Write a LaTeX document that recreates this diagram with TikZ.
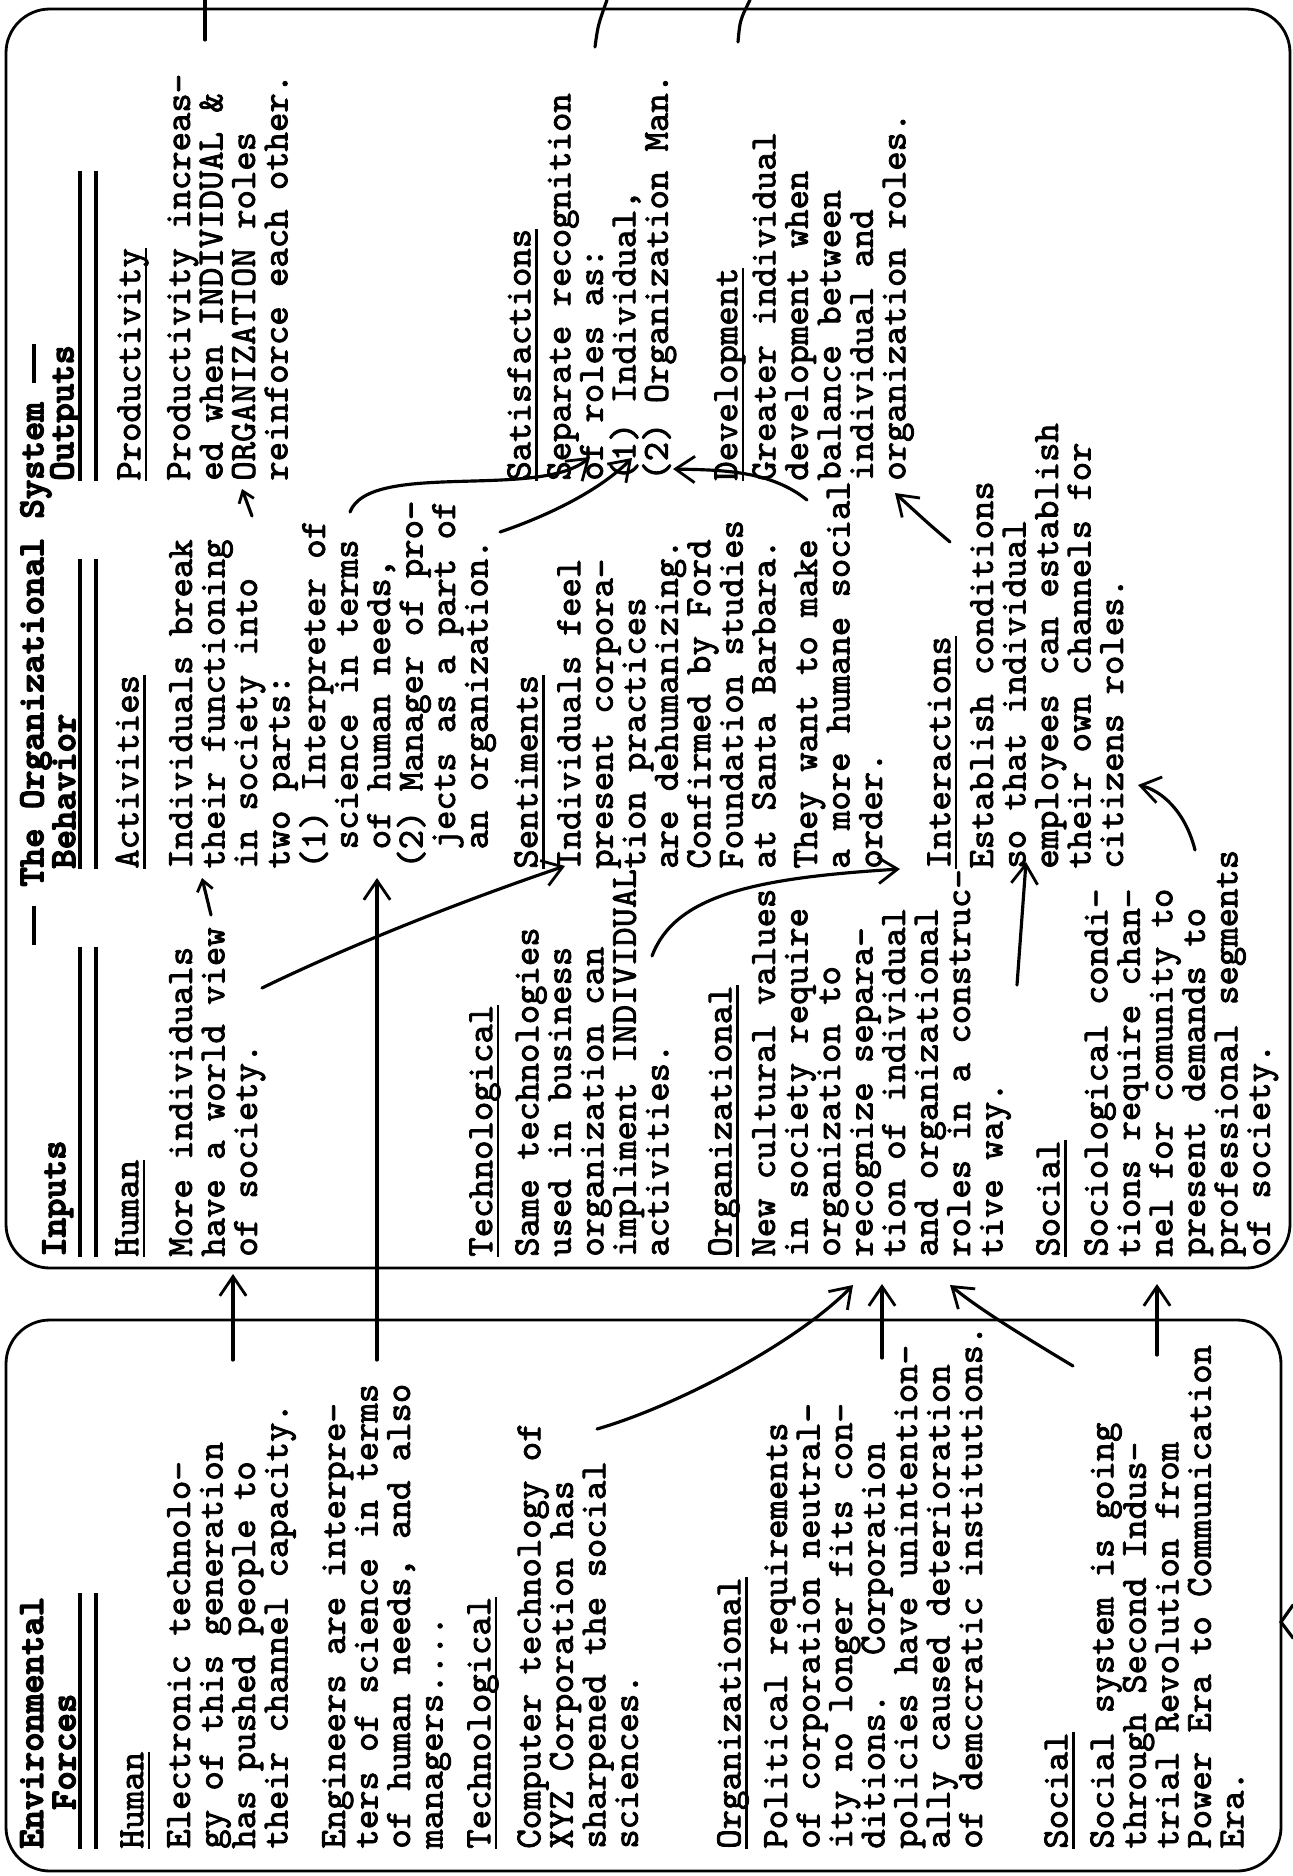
\documentclass[tikz,border=0pt]{standalone}
\usepackage{fontspec}
\newfontfamily\twfam{lmmono10-regular.otf}[FakeBold=2.2,
  BoldFont=lmmonolt10-bold.otf, BoldFeatures={FakeBold=3.5}]
\usetikzlibrary{arrows.meta}

\newcommand{\ul}[1]{\setbox0\hbox{#1}\rlap{\rule[-0.2em]{\wd0}{0.07em}}\box0}
\newcommand{\tdash}{\rule[0.2em]{1.05em}{0.11em}}

\begin{document}
\frenchspacing
\begin{tikzpicture}[
  x=0.02cm, y=-0.02cm,
  txt/.style  = {rotate=90, anchor=north west, inner sep=0pt, align=left,
                 font=\twfam\fontsize{21pt}{18.5pt}\selectfont,
                 execute at begin node=\strut},
  hd/.style   = {txt, font=\twfam\bfseries\fontsize{21pt}{18.5pt}\selectfont},
  box/.style  = {line width=1.6pt, rounded corners=25pt},
  uline/.style= {line width=2.4pt},
  lin/.style  = {line width=1.8pt, line cap=round},
  arr/.style  = {lin, -{Straight Barb[length=11pt,width=15pt,line width=1.6pt]}},
  sarr/.style = {lin, -{Straight Barb[length=6pt,width=9pt,line width=1.6pt]}},
]

\def\cI{1257} \def\cB{869} \def\cO{481} \def\cE{1849}

\useasboundingbox (0,0) rectangle (1293,1876);

\draw[box] (6,9) rectangle (1290,1268);
\draw[box] (6,1320) rectangle (1281,1871);

\node[hd] (title) at (20,945) {\tdash~The Organizational System~\tdash};

\node[hd] (inHead)  at (42,\cI) {Inputs};
\node[hd] (bhHead)  at (52,\cB) {Behavior};
\node[hd] (outHead) at (50,\cO) {Outputs};
\foreach \c in {\cI,\cB,\cO}{
  \draw[uline] (80,\c) -- (80,\c-310);
  \draw[uline] (96,\c) -- (96,\c-310);
}

\node[txt] (inHuman)   at (115,\cI) {\ul{Human}};
\node[txt] (inHumanTx) at (169,\cI) {More individuals\\have a world view\\of society.};
\node[txt] (inTech)    at (469,\cI) {\ul{Technological}};
\node[txt] (inTechTx)  at (515,\cI) {Same technologies\\used in business\\organization can\\impliment INDIVIDUAL\\activities.};
\node[txt] (inOrg)     at (708,\cI) {\ul{Organizational}};
\node[txt] (inOrgTx)   at (752,\cI) {New cultural values\\in society require\\organization to\\recognize separa-\\tion of individual\\and organizational\\roles in a construc-\\tive way.};
\node[txt] (inSoc)     at (1036,\cI) {\ul{Social}};
\node[txt] (inSocTx)   at (1084,\cI) {Sociological condi-\\tions require chan-\\nel for comunity to\\present demands to\\professional segments\\of society.};

\node[txt] (bhAct)    at (115,\cB) {\ul{Activities}};
\node[txt] (bhActTx)  at (169,\cB) {Individuals break\\their functioning\\in society into\\two parts:\\(1) Interpreter of\\~science in terms\\~of human needs,\\(2) Manager of pro-\\~jects as a part of\\~an organization.};
\node[txt] (bhSent)   at (514,\cB) {\ul{Sentiments}};
\node[txt] (bhSentTx) at (557,\cB) {Individuals feel\\present corpora-\\tion practices\\are dehumanizing.\\Confirmed by Ford\\Foundation studies\\at Santa Barbara.};
\node[txt] (bhWant)   at (794,\cB) {They want to make\\a more humane social\\order.};
\node[txt] (bhInt)    at (927,\cB) {\ul{Interactions}};
\node[txt] (bhIntTx)  at (970,\cB) {Establish conditions\\so that individual\\employees can establish\\their own channels for\\citizens roles.};

\node[txt] (outProd)   at (117,\cO) {\ul{Productivity}};
\node[txt] (outProdTx) at (167,\cO) {Productivity increas-\\ed when INDIVIDUAL \&\\ORGANIZATION roles\\reinforce each other.};
\node[txt] (outSat)    at (507,\cO) {\ul{Satisfactions}};
\node[txt] (outSatTx)  at (547,\cO) {Separate recognition\\of roles as:\\(1) Individual,\\(2) Organization Man.};
\node[txt] (outDev)    at (714,\cO) {\ul{Development}};
\node[txt] (outDevTx)  at (752,\cO) {Greater individual\\development when\\balance between\\individual and\\organization roles.};

\node[hd] (envHead) at (20,\cE) {Environmental\\~~Forces};
\draw[uline] (80,\cE) -- (80,1593);
\draw[uline] (96,\cE) -- (96,1593);

\node[txt] (envHuman)   at (120,\cE) {\ul{Human}};
\node[txt] (envHumanTx) at (167,\cE) {Electronic technolo-\\gy of this generation\\has pushed people to\\their channel capacity.};
\node[txt] (envEng)     at (322,\cE) {Engineers are interpre-\\ters of science in terms\\of human needs, and also\\managers....};
\node[txt] (envTech)    at (467,\cE) {\ul{Technological}};
\node[txt] (envTechTx)  at (517,\cE) {Computer technology of\\XYZ Corporation has\\sharpened the social\\sciences.};
\node[txt] (envOrg)     at (717,\cE) {\ul{Organizational}};
\node[txt] (envOrgTx)   at (764,\cE) {Political requirements\\of corporation neutral-\\ity no longer fits con-\\ditions.~~Corporation\\policies have unintention-\\ally caused deterioration\\of demccratic institutions.};
\node[txt] (envSoc)     at (1044,\cE) {\ul{Social}};
\node[txt] (envSocTx)   at (1090,\cE) {Social system is going\\through Second Indus-\\trial Revolution from\\Power Era to Communication\\Era.};

\coordinate (aHs) at (233,1360);  \coordinate (aHe) at (233,1274);
\coordinate (aEs) at (377,1360);  \coordinate (aEe) at (377,878);
\coordinate (aTs) at (597,1429);  \coordinate (aTe) at (853,1285);
\coordinate (aPs) at (882,1358);  \coordinate (aPe) at (882,1284);
\coordinate (aDs) at (1073,1366); \coordinate (aDe) at (950,1285);
\coordinate (aSs) at (1157,1355); \coordinate (aSe) at (1157,1284);

\draw[arr] (aHs) -- (aHe);
\draw[arr] (aEs) -- (aEe);
\draw[arr] (aTs) .. controls (680,1405) and (800,1340) .. (aTe);
\draw[arr] (aPs) -- (aPe);
\draw[arr] (aDs) .. controls (1030,1340) and (980,1310) .. (aDe);
\draw[arr] (aSs) -- (aSe);

\coordinate (vS) at (211,915);  \coordinate (vE) at (202,878);
\coordinate (iS) at (252,516);  \coordinate (iE) at (242,489);
\coordinate (oS) at (262,988);  \coordinate (oE) at (565,866);
\coordinate (sS) at (350,512);  \coordinate (sE) at (590,457);
\coordinate (nS) at (500,532);  \coordinate (nE) at (632,458);
\coordinate (mS) at (807,500);  \coordinate (mE) at (673,469);
\coordinate (eS) at (950,542);  \coordinate (eE) at (895,493);
\coordinate (cS) at (652,956);  \coordinate (cE) at (900,869);
\coordinate (wS) at (1017,985); \coordinate (wE) at (1026,862);
\coordinate (pS) at (1195,850); \coordinate (pE) at (1138,785);

\draw[sarr] (vS) -- (vE);
\draw[sarr] (iS) -- (iE);
\draw[arr] (oS) .. controls (340,950) and (450,905) .. (oE);
\draw[arr] (sS) .. controls (370,460) and (540,500) .. (sE);
\draw[arr] (nS) .. controls (550,515) and (600,490) .. (nE);
\draw[arr] (mS) .. controls (770,470) and (720,470) .. (mE);
\draw[arr] (eS) .. controls (930,525) .. (eE);
\draw[arr] (cS) .. controls (675,895) and (755,878) .. (cE);
\draw[arr] (wS) -- (wE);
\draw[arr] (pS) .. controls (1185,810) and (1160,790) .. (pE);

\draw[lin] (205,40) -- (205,0);
\draw[lin] (595,47) .. controls (598,25) .. (607,0);
\draw[lin] (738,42) .. controls (740,20) .. (750,0);
\draw[lin] (1293,1605) -- (1281,1622) -- (1293,1638);

\end{tikzpicture}
\end{document}
